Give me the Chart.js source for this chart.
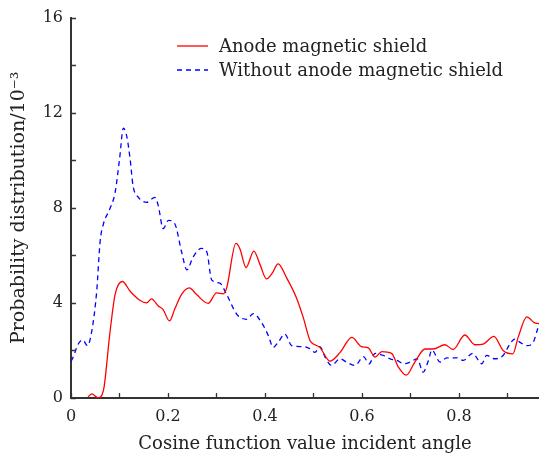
<!DOCTYPE html>
<html>
<head>
<meta charset="utf-8">
<script src="https://cdn.jsdelivr.net/npm/chart.js@4.4.1/dist/chart.umd.min.js"></script>
<style>
  html, body { margin: 0; padding: 0; background: #fff; }
  #wrap { width: 539px; height: 459px; }
</style>
</head>
<body>
<div id="wrap"><canvas id="Graf" width="539" height="459"></canvas></div>
<script>
var redX = [0.035,0.043,0.050,0.056,0.067,0.080,0.091,0.106,0.122,0.142,0.156,0.166,0.180,0.190,0.203,0.214,0.228,0.244,0.259,0.283,0.300,0.314,0.321,0.340,0.348,0.361,0.377,0.390,0.403,0.415,0.427,0.445,0.465,0.479,0.493,0.503,0.513,0.534,0.555,0.579,0.599,0.613,0.627,0.641,0.661,0.675,0.691,0.709,0.730,0.747,0.771,0.788,0.812,0.833,0.850,0.872,0.891,0.911,0.922,0.940,0.955,0.965];
var redY = [0.05,0.17,0.08,0.01,0.33,2.7,4.36,4.9,4.49,4.11,4.0,4.17,3.87,3.72,3.24,3.74,4.36,4.63,4.35,3.98,4.42,4.38,4.63,6.5,6.29,5.49,6.18,5.6,5.01,5.25,5.64,5.04,4.21,3.38,2.41,2.24,2.13,1.55,1.92,2.55,2.16,2.11,1.72,1.95,1.88,1.30,0.96,1.51,2.06,2.06,2.24,2.04,2.65,2.24,2.27,2.59,2.0,1.86,2.55,3.41,3.17,3.13];

var blueX = [0.0,0.003,0.015,0.024,0.034,0.043,0.053,0.060,0.067,0.080,0.091,0.100,0.108,0.115,0.122,0.128,0.139,0.156,0.173,0.180,0.190,0.201,0.214,0.228,0.239,0.252,0.269,0.280,0.290,0.307,0.321,0.342,0.362,0.376,0.393,0.407,0.417,0.427,0.441,0.455,0.479,0.493,0.503,0.513,0.524,0.537,0.555,0.568,0.586,0.603,0.615,0.627,0.644,0.658,0.672,0.687,0.699,0.714,0.726,0.737,0.744,0.761,0.775,0.795,0.809,0.828,0.847,0.857,0.874,0.891,0.905,0.915,0.926,0.940,0.953,0.961,0.965];
var blueY = [1.55,1.65,2.27,2.44,2.2,2.83,4.49,6.57,7.33,7.95,8.65,10.03,11.35,11.0,10.03,8.92,8.44,8.23,8.44,8.09,7.12,7.47,7.33,6.15,5.39,5.94,6.29,6.15,4.97,4.83,4.35,3.52,3.31,3.55,3.17,2.62,2.13,2.34,2.69,2.20,2.16,2.07,1.92,2.16,1.72,1.37,1.65,1.51,1.37,1.74,1.44,1.88,1.79,1.65,1.58,1.44,1.51,1.65,1.09,1.58,2.02,1.51,1.69,1.69,1.58,1.88,1.44,1.79,1.65,1.79,2.27,2.48,2.34,2.2,2.34,2.83,3.1];

var xTicks = [0,0.1,0.2,0.3,0.4,0.5,0.6,0.7,0.8,0.9];
var yTicks = [0,2,4,6,8,10,12,14,16];
var xLabels = [0,0.2,0.4,0.6,0.8];
var yLabels = [0,4,8,12,16];

var serif = "'DejaVu Serif', serif";

function toPoints(xs, ys) {
    var pts = [];
    for (var i = 0; i < xs.length; i++) pts.push({x: xs[i], y: ys[i]});
    return pts;
}

// ticks inside the plot + legend in the upper area
var insideTicks = {
    id: 'insideTicks',
    afterDraw: function(chart) {
        var ctx = chart.ctx;
        var xs = chart.scales.x, ys = chart.scales.y;
        ctx.save();
        ctx.strokeStyle = '#333';
        ctx.lineWidth = 1.3;
        ctx.beginPath();
        xTicks.forEach(function(v) {
            var p = Math.round(xs.getPixelForValue(v)) + 0.5;
            ctx.moveTo(p, ys.bottom);
            ctx.lineTo(p, ys.bottom - 5);
        });
        yTicks.forEach(function(v) {
            var p = Math.round(ys.getPixelForValue(v)) + 0.5;
            ctx.moveTo(xs.left, p);
            ctx.lineTo(xs.left + 5, p);
        });
        ctx.stroke();

        // legend
        ctx.font = '18px ' + serif;
        ctx.textBaseline = 'middle';
        ctx.fillStyle = '#222';
        chart.data.datasets.forEach(function(ds, i) {
            var y = 46 + i * 24;
            ctx.strokeStyle = ds.borderColor;
            ctx.lineWidth = 1.3;
            ctx.setLineDash(ds.borderDash || []);
            ctx.beginPath();
            ctx.moveTo(177, y);
            ctx.lineTo(208, y);
            ctx.stroke();
            ctx.setLineDash([]);
            ctx.fillText(ds.label, 219, y + 1);
        });
        ctx.restore();
    }
};

new Chart("Graf", {
    type: "line",
    data: {
        datasets: [{
            label: "Anode magnetic shield",
            data: toPoints(redX, redY),
            borderColor: "#ff0000",
            borderWidth: 1.3,
            pointRadius: 0,
            fill: false,
            cubicInterpolationMode: 'monotone'
        }, {
            label: "Without anode magnetic shield",
            data: toPoints(blueX, blueY),
            borderColor: "#0000ff",
            borderWidth: 1.3,
            borderDash: [5, 4],
            pointRadius: 0,
            fill: false,
            cubicInterpolationMode: 'monotone'
        }]
    },
    options: {
        responsive: false,
        animation: false,
        layout: { padding: { top: 13, right: 0, left: 0, bottom: 0 } },
        plugins: {
            legend: { display: false },
            tooltip: { enabled: false }
        },
        scales: {
            x: {
                type: 'linear',
                min: 0,
                max: 0.965,
                afterBuildTicks: function(scale) {
                    scale.ticks = xLabels.map(function(v) { return {value: v}; });
                },
                afterFit: function(scale) { scale.height = 61; },
                grid: { display: false, drawTicks: false },
                border: { display: true, color: '#333', width: 2 },
                ticks: {
                    padding: 9,
                    color: '#222',
                    font: { family: serif, size: 16 },
                    maxRotation: 0,
                    callback: function(v) { return v === 0 ? '0' : v.toFixed(1); }
                },
                title: {
                    display: true,
                    text: 'Cosine function value incident angle',
                    color: '#222',
                    font: { family: serif, size: 18 },
                    padding: { top: 0, bottom: 4 }
                }
            },
            y: {
                type: 'linear',
                min: 0,
                max: 16,
                afterBuildTicks: function(scale) {
                    scale.ticks = yLabels.map(function(v) { return {value: v}; });
                },
                afterFit: function(scale) { scale.width = 71; },
                grid: { display: false, drawTicks: false },
                border: { display: true, color: '#333', width: 2 },
                ticks: {
                    padding: 8,
                    color: '#222',
                    font: { family: serif, size: 16 }
                },
                title: {
                    display: true,
                    text: 'Probability distribution/10\u207B\u00B3',
                    color: '#222',
                    font: { family: serif, size: 19 },
                    padding: { top: 8, bottom: 0 }
                }
            }
        }
    },
    plugins: [insideTicks]
});
</script>
</body>
</html>
